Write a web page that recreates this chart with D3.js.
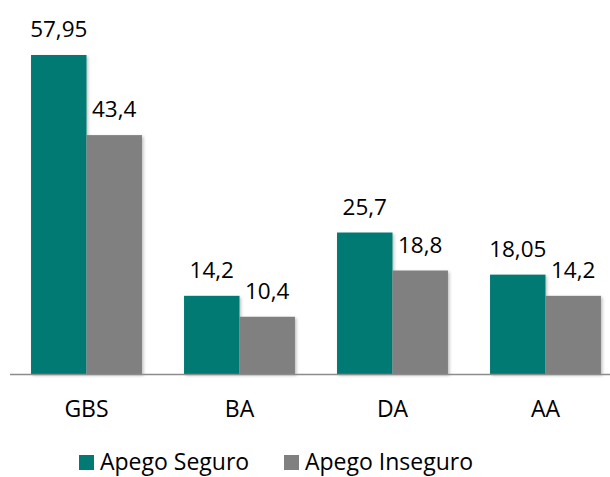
<!DOCTYPE html>
<html>
<head>
<meta charset="utf-8">
<script src="https://cdn.jsdelivr.net/npm/d3@7"></script>
<style>
  body { margin: 0; background: #fff; }
  svg { display: block; font-family: "Open Sans", sans-serif; }
</style>
</head>
<body>
<div id="chart"></div>
<script>
// data
const categories = ['GBS', 'BA', 'DA', 'AA'];
const seriesNames = ['Apego Seguro', 'Apego Inseguro'];
const seguro = [57.95, 14.2, 25.7, 18.05];
const inseguro = [43.4, 10.4, 18.8, 14.2];
const colors = ['#007a73', '#808080'];

const width = 610, height = 477;
const baseY = 374;
const fmt = v => String(v).replace('.', ',');

const svg = d3.select('#chart').append('svg')
    .attr('width', width)
    .attr('height', height);

const defs = svg.append('defs');
const shadow = defs.append('filter').attr('id', 'sh')
    .attr('x', '-10%').attr('y', '-10%').attr('width', '130%').attr('height', '130%');
shadow.append('feDropShadow')
    .attr('dx', 1.5).attr('dy', 1.5).attr('stdDeviation', 1.5)
    .attr('flood-color', '#000').attr('flood-opacity', 0.25);

const x0 = d3.scaleBand().domain(categories).range([10, 622]).paddingInner(0.275).paddingOuter(0.1375);
const x1 = d3.scaleBand().domain(seriesNames).range([0, x0.bandwidth()]);
const y = d3.scaleLinear().domain([0, 57.95]).range([baseY, 55]);

const rows = categories.map((c, i) => ({ cat: c, vals: [seguro[i], inseguro[i]] }));

const groups = svg.selectAll('g.grp')
    .data(rows)
    .enter()
    .append('g')
    .attr('class', 'grp')
    .attr('transform', d => `translate(${x0(d.cat)},0)`);

groups.selectAll('rect')
    .data(d => d.vals.map((v, j) => ({ key: seriesNames[j], v, j })))
    .enter()
    .append('rect')
    .attr('x', d => x1(d.key))
    .attr('y', d => y(d.v))
    .attr('width', x1.bandwidth())
    .attr('height', d => baseY - y(d.v))
    .attr('fill', d => colors[d.j])
    .attr('filter', 'url(#sh)');

groups.selectAll('text.val')
    .data(d => d.vals.map((v, j) => ({ key: seriesNames[j], v, j })))
    .enter()
    .append('text')
    .attr('class', 'val')
    .attr('x', d => x1(d.key) + x1.bandwidth() / 2)
    .attr('y', d => y(d.v) - 18)
    .attr('text-anchor', 'middle')
    .attr('font-size', 22.5)
    .attr('fill', '#000')
    .text(d => fmt(d.v));

// baseline axis
svg.append('line')
    .attr('x1', 10).attr('x2', width)
    .attr('y1', baseY + 0.5).attr('y2', baseY + 0.5)
    .attr('stroke', '#8c8c8c')
    .attr('stroke-width', 1.5);

svg.selectAll('text.cat')
    .data(categories)
    .enter()
    .append('text')
    .attr('class', 'cat')
    .attr('x', d => x0(d) + x0.bandwidth() / 2)
    .attr('y', 417)
    .attr('text-anchor', 'middle')
    .attr('font-size', 23)
    .attr('fill', '#000')
    .text(d => d);

// legend
const legendX = [79, 284];
const legend = svg.selectAll('g.leg')
    .data(seriesNames)
    .enter()
    .append('g')
    .attr('class', 'leg')
    .attr('transform', (d, i) => `translate(${legendX[i]},455)`);

legend.append('rect')
    .attr('width', 15).attr('height', 15)
    .attr('fill', (d, i) => colors[i]);

legend.append('text')
    .attr('x', 21)
    .attr('y', 15)
    .attr('font-size', 23)
    .attr('fill', '#000')
    .text(d => d);
</script>
</body>
</html>
